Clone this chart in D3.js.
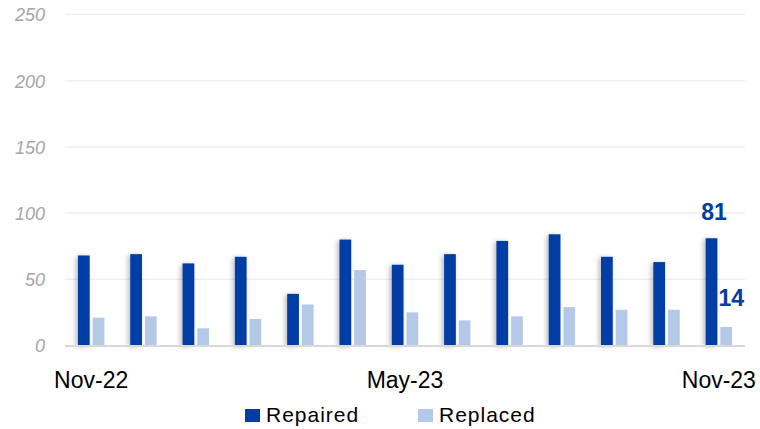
<!DOCTYPE html>
<html>
<head>
<meta charset="utf-8">
<script src="https://cdn.jsdelivr.net/npm/d3@7"></script>
<style>
  html, body { margin: 0; padding: 0; background: #fff; }
  svg { display: block; }
</style>
</head>
<body>
<svg id="chart" width="760" height="429"></svg>
<script>
const months = ["Nov-22","Dec-22","Jan-23","Feb-23","Mar-23","Apr-23","May-23","Jun-23","Jul-23","Aug-23","Sep-23","Oct-23","Nov-23"];
const shownMonthLabels = ["Nov-22","May-23","Nov-23"];
const seriesNames = ["Repaired","Replaced"];
const repaired = [68,69,62,67,39,80,61,69,79,84,67,63,81];
const replaced = [21,22,13,20,31,57,25,19,22,29,27,27,14];
const yTicks = [0,50,100,150,200,250];
const colors = ["#003DA5","#B4C9E7"];

const svg = d3.select("#chart");
const defs = svg.append("defs");
const f = defs.append("filter").attr("id","shadow").attr("x","-100%").attr("y","-20%").attr("width","300%").attr("height","140%");
f.append("feDropShadow").attr("dx",-2).attr("dy",1).attr("stdDeviation",2.5).attr("flood-color","#000").attr("flood-opacity",0.28);

const x0 = d3.scaleBand().domain(months).range([65,745]).paddingInner(0.495).paddingOuter(0.2475);
const x1 = d3.scaleBand().domain(seriesNames).range([0, x0.bandwidth()]).paddingInner(0.2).paddingOuter(0);
const y = d3.scaleLinear().domain([0,250]).range([345.5,14.5]);

// gridlines
svg.append("g").selectAll("line").data(yTicks.filter(t => t > 0)).join("line")
  .attr("x1",65).attr("x2",745)
  .attr("y1",d=>y(d)).attr("y2",d=>y(d))
  .attr("stroke","#efefef").attr("stroke-width",1.5);

// y axis labels
const yAxis = d3.axisLeft(y).tickValues(yTicks).tickSize(0).tickPadding(0);
const yg = svg.append("g").attr("transform","translate(45,0)").call(yAxis);
yg.select(".domain").remove();
yg.selectAll("text")
  .attr("font-family","'Liberation Sans', Arial, sans-serif")
  .attr("font-style","italic")
  .attr("font-size",18)
  .attr("fill","#a6a6a6")
  .attr("dy","0.36em");

const data = months.map((m,i) => ({month:m, values:[{s:"Repaired",v:repaired[i]},{s:"Replaced",v:replaced[i]}]}));

const groups = svg.append("g").selectAll("g").data(data).join("g")
  .attr("transform", d => `translate(${x0(d.month)},0)`);
groups.selectAll("rect").data(d => d.values).join("rect")
  .attr("x", d => x1(d.s))
  .attr("width", x1.bandwidth())
  .attr("y", d => y(d.v))
  .attr("height", d => y(0) - y(d.v))
  .attr("fill", (d,i) => colors[i])
  .attr("filter", (d,i) => i === 0 ? "url(#shadow)" : null);

// baseline
svg.append("line").attr("x1",65).attr("x2",745).attr("y1",y(0)+0.5).attr("y2",y(0)+0.5)
  .attr("stroke","#d9d9d9").attr("stroke-width",2);

// x axis labels
const xAxis = d3.axisBottom(x0).tickValues(shownMonthLabels).tickSize(0).tickPadding(0);
const xg = svg.append("g").attr("transform","translate(0,388)").call(xAxis);
xg.select(".domain").remove();
xg.selectAll("text")
  .attr("font-family","'Liberation Sans', Arial, sans-serif")
  .attr("font-size",23)
  .attr("fill","#000")
  .attr("dy",0)
  .attr("y",0);

// data labels for last month
const last = months.length - 1;
svg.append("text")
  .attr("x", x0(months[last]) + x1("Repaired") + x1.bandwidth()/2 + 2.5)
  .attr("y", y(repaired[last]) - 18.5)
  .attr("text-anchor","middle")
  .attr("font-family","'Liberation Sans', Arial, sans-serif")
  .attr("font-weight","bold").attr("font-size",23)
  .attr("fill","#003DA5").text(repaired[last]);
svg.append("text")
  .attr("x", x0(months[last]) + x1("Replaced") + x1.bandwidth()/2 + 5)
  .attr("y", y(replaced[last]) - 21)
  .attr("text-anchor","middle")
  .attr("font-family","'Liberation Sans', Arial, sans-serif")
  .attr("font-weight","bold").attr("font-size",23)
  .attr("fill","#003DA5").text(replaced[last]);

// legend
const legend = svg.append("g");
const legendX = [245, 418];
seriesNames.forEach((s,i) => {
  legend.append("rect").attr("x",legendX[i]).attr("y",409).attr("width",15).attr("height",13).attr("fill",colors[i]);
  legend.append("text").attr("x",legendX[i]+21).attr("y",422)
    .attr("font-family","'Liberation Sans', Arial, sans-serif")
    .attr("font-size",21).attr("letter-spacing",1)
    .attr("fill","#000").text(s);
});
</script>
</body>
</html>
